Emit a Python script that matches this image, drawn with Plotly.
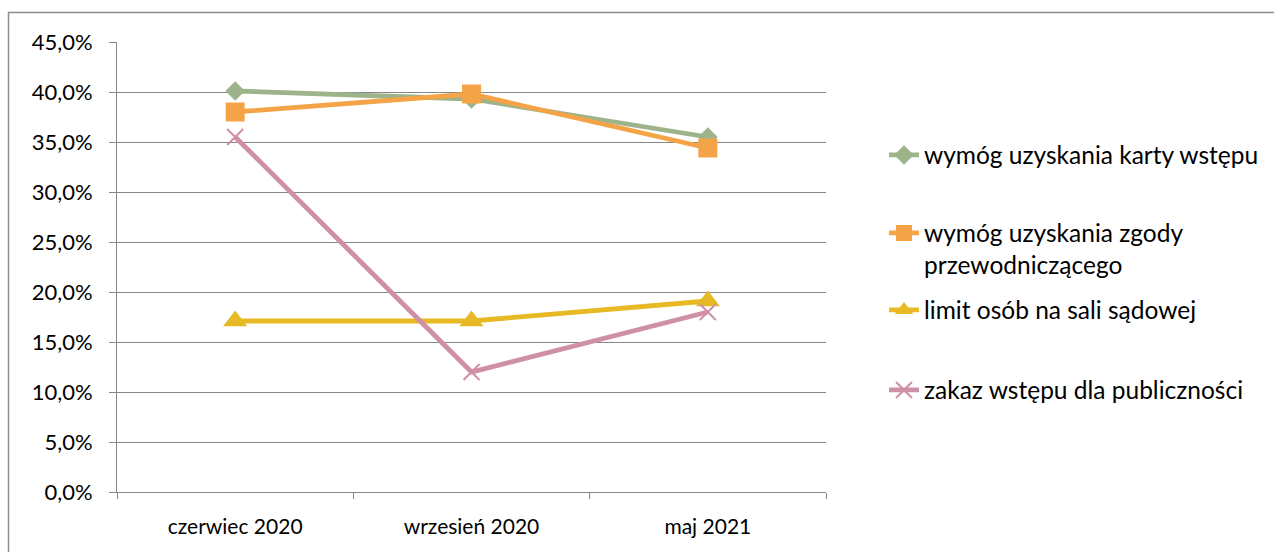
import plotly.graph_objects as go

# Survey periods and share of courts applying each restriction
periods = ["czerwiec 2020", "wrzesień 2020", "maj 2021"]

karta_wstepu = [0.401, 0.393, 0.355]
zgoda_przewodniczacego = [0.380, 0.398, 0.344]
limit_osob = [0.171, 0.171, 0.191]
zakaz_wstepu = [0.355, 0.120, 0.180]

series_names = [
    "wymóg uzyskania karty wstępu",
    "wymóg uzyskania zgody<br>przewodniczącego",
    "limit osób na sali sądowej",
    "zakaz wstępu dla publiczności",
]

W, H = 1274, 552
L, R, T, B = 117, 826, 42, 492  # plot area in pixels

FONT = "Lato, Carlito, Calibri, sans-serif"
GRID = "#868686"

fig = go.Figure()

styles = [
    dict(color="#9DB38A", symbol="diamond", size=15, lw=0),
    dict(color="#F4A446", symbol="square", size=19, lw=0),
    dict(color="#E6B925", symbol="triangle-up", size=21, lw=0),
    dict(color="#CF8FA7", symbol="x-thin", size=16, lw=2),
]
data = [karta_wstepu, zgoda_przewodniczacego, limit_osob, zakaz_wstepu]
legend_ids = ["legend", "legend2", "legend3", "legend4"]

for vals, name, st, lg in zip(data, series_names, styles, legend_ids):
    fig.add_trace(go.Scatter(
        x=periods, y=vals, name=name, mode="lines+markers",
        line=dict(color=st["color"], width=4.8),
        marker=dict(symbol=st["symbol"], size=st["size"], color=st["color"],
                    line=dict(color=st["color"], width=st["lw"])),
        legend=lg,
    ))

# one legend box per series, stacked on the right
legend_centers = [155, 249, 310, 390]
legend_common = dict(
    xref="container", yref="container", x=884 / W, xanchor="left",
    yanchor="middle", font=dict(family=FONT, size=24.5, color="#000000"),
    bgcolor="rgba(0,0,0,0)", valign="top",
)
legend_layout = {}
for lg, cy in zip(legend_ids, legend_centers):
    legend_layout[lg] = dict(legend_common, y=1 - cy / H)

pw, ph = R - L, B - T
def px_x(p):
    return (p - L) / pw
def px_y(p):
    return (B - p) / ph

fig.update_layout(
    width=W, height=H,
    margin=dict(l=L, r=W - R, t=T, b=H - B),
    paper_bgcolor="white", plot_bgcolor="white",
    separators=", ",
    font=dict(family=FONT, size=21, color="#000000"),
    showlegend=True,
    xaxis=dict(
        type="category", showgrid=False, showline=True, linecolor=GRID,
        linewidth=1, ticks="outside", tickson="boundaries", ticklen=6,
        tickcolor=GRID, tickfont=dict(family=FONT, size=21), ticklabelstandoff=16,
        range=[-0.5, 2.5], fixedrange=True,
    ),
    yaxis=dict(
        range=[0, 0.45], dtick=0.05, tick0=0, tickformat=".1%",
        showgrid=True, gridcolor=GRID, gridwidth=1, zeroline=False,
        showline=True, linecolor=GRID, linewidth=1, ticks="outside",
        ticklen=7, tickcolor=GRID, tickfont=dict(family=FONT, size=22),
        ticklabelstandoff=12,
    ),
    shapes=[dict(
        type="rect", xref="paper", yref="paper",
        x0=px_x(8.5), x1=px_x(W + 10), y0=px_y(H + 10), y1=px_y(12.5),
        line=dict(color="#8C8C8C", width=1.5), fillcolor="rgba(0,0,0,0)",
        layer="below",
    )],
    **legend_layout,
)

fig.write_html("out.html")
